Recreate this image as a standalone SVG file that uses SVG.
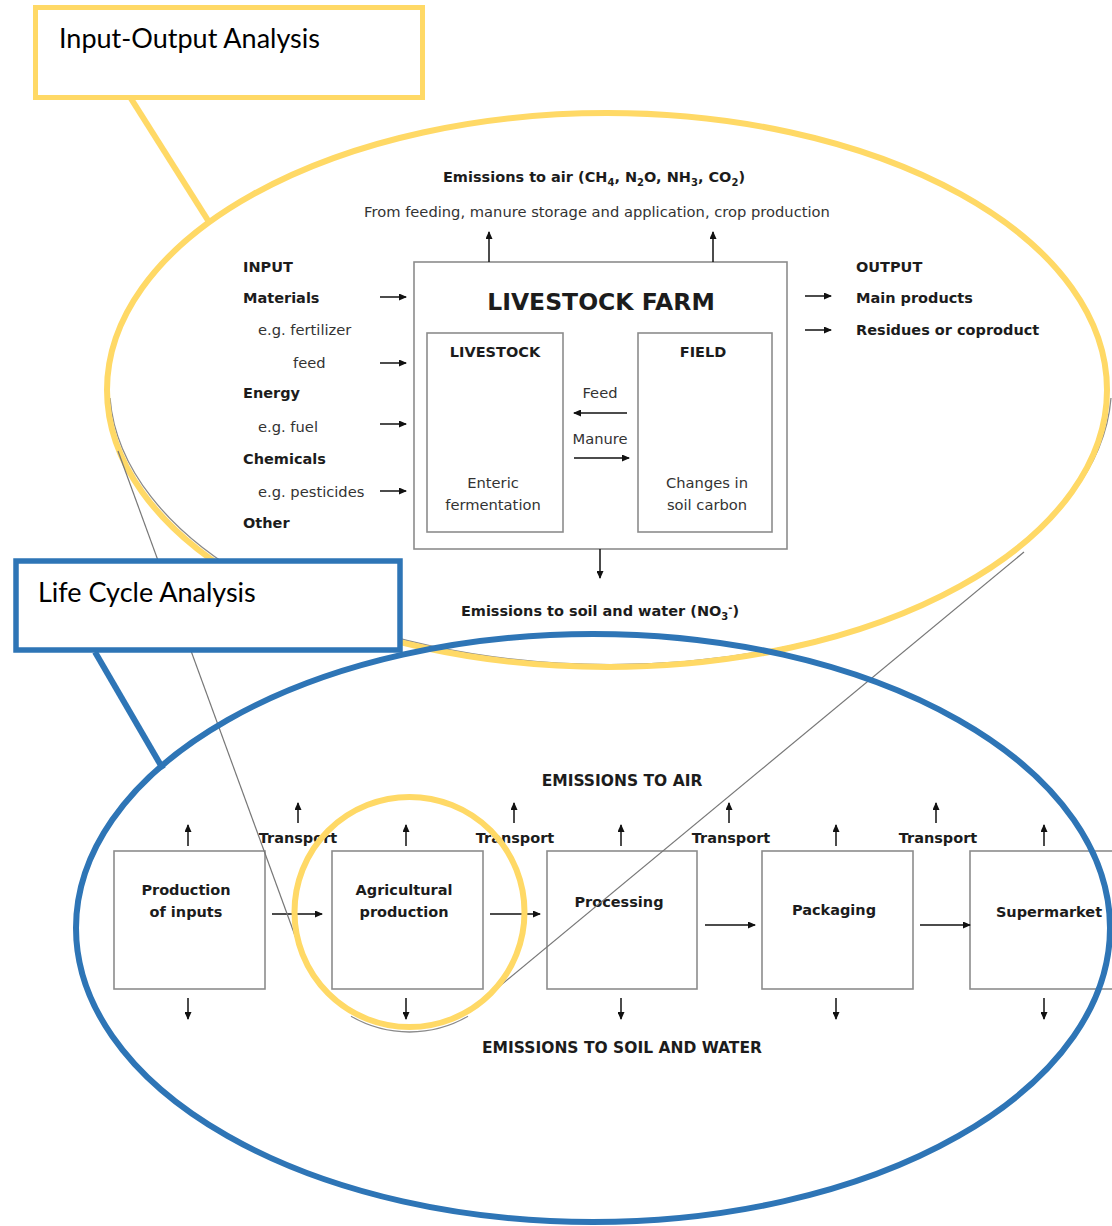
<svg xmlns="http://www.w3.org/2000/svg" width="1112" height="1226" viewBox="0 0 1112 1226">
<defs>
<style>
.b{font-family:"DejaVu Sans",Verdana,sans-serif;font-weight:bold;font-size:14.5px;fill:#1c1c1c}
.n{font-family:"DejaVu Sans",Verdana,sans-serif;font-size:14.7px;fill:#333}
.caps{font-size:15.5px}
.title{font-size:23.5px}
.c{font-family:Lato,"Open Sans",sans-serif;font-size:27px;fill:#000}
.box{fill:#fff;stroke:#8c8c8c;stroke-width:1.6}
.arr{stroke:#111;stroke-width:1.5;fill:none;marker-end:url(#ah)}
.yel{fill:none;stroke:#FFD966;stroke-width:6}
.blu{fill:none;stroke:#2E75B6;stroke-width:6}
.shadow{fill:none;stroke:#8a8a8a;stroke-width:1.3}
.mid{text-anchor:middle}
</style>
<marker id="ah" markerWidth="8" markerHeight="7" refX="7" refY="3.5" orient="auto" markerUnits="userSpaceOnUse">
<path d="M0,0 L8,3.5 L0,7 z" fill="#111"/>
</marker>
</defs>
<rect width="1112" height="1226" fill="#fff"/>

<g id="io-lens">
<path class="shadow" d="M110,398 A501,279 0 0 0 1111,398"/>
<ellipse class="yel" cx="607" cy="390" rx="500" ry="277"/>
</g>

<g id="io-callout">
<line x1="130" y1="97" x2="209" y2="222" stroke="#FFD966" stroke-width="6"/>
<rect x="35.5" y="7.5" width="387" height="90" fill="#fff" stroke="#FFD966" stroke-width="5"/>
<text class="c" x="59" y="48">Input-Output Analysis</text>
</g>

<g id="io-top-labels">
<text class="b mid" x="594" y="182">Emissions to air (CH<tspan font-size="10" dy="4">4</tspan><tspan dy="-4">, N</tspan><tspan font-size="10" dy="4">2</tspan><tspan dy="-4">O, NH</tspan><tspan font-size="10" dy="4">3</tspan><tspan dy="-4">, CO</tspan><tspan font-size="10" dy="4">2</tspan><tspan dy="-4">)</tspan></text>
<text class="n mid" x="597" y="217">From feeding, manure storage and application, crop production</text>
</g>

<g id="inputs">
<text class="b" x="243" y="272">INPUT</text>
<text class="b" x="243" y="303">Materials</text>
<text class="n" x="258" y="335">e.g. fertilizer</text>
<text class="n" x="293" y="368">feed</text>
<text class="b" x="243" y="398">Energy</text>
<text class="n" x="258" y="432">e.g. fuel</text>
<text class="b" x="243" y="464">Chemicals</text>
<text class="n" x="258" y="497">e.g. pesticides</text>
<text class="b" x="243" y="528">Other</text>
</g>

<g id="outputs">
<text class="b" x="856" y="272">OUTPUT</text>
<text class="b" x="856" y="303">Main products</text>
<text class="b" x="856" y="335">Residues or coproduct</text>
</g>

<g id="livestock-farm">
<rect class="box" x="414" y="262" width="373" height="287"/>
<text class="b title mid" x="601" y="310">LIVESTOCK FARM</text>
</g>
<g id="livestock">
<rect class="box" x="427" y="333" width="136" height="199"/>
<text class="b mid" x="495" y="357">LIVESTOCK</text>
<text class="n mid" x="493" y="488">Enteric</text>
<text class="n mid" x="493" y="510">fermentation</text>
</g>
<g id="field">
<rect class="box" x="638" y="333" width="134" height="199"/>
<text class="b mid" x="703" y="357">FIELD</text>
<text class="n mid" x="707" y="488">Changes in</text>
<text class="n mid" x="707" y="510">soil carbon</text>
</g>
<g id="io-flow-labels">
<text class="n mid" x="600" y="398">Feed</text>
<text class="n mid" x="600" y="444">Manure</text>
<text class="b mid" x="600" y="616">Emissions to soil and water (NO<tspan font-size="10" dy="4">3</tspan><tspan font-size="10" dy="-9">-</tspan><tspan dy="5">)</tspan></text>
</g>

<g id="lca-labels">
<text class="b caps mid" x="622" y="786">EMISSIONS TO AIR</text>
<text class="b caps mid" x="622" y="1053">EMISSIONS TO SOIL AND WATER</text>
<text class="b mid" x="298" y="843">Transport</text>
<text class="b mid" x="515" y="843">Transport</text>
<text class="b mid" x="731" y="843">Transport</text>
<text class="b mid" x="938" y="843">Transport</text>
</g>
<g id="production-of-inputs">
<rect class="box" x="114" y="851" width="151" height="138"/>
<text class="b mid" x="186" y="895">Production</text>
<text class="b mid" x="186" y="917">of inputs</text>
</g>
<g id="agricultural-production">
<rect class="box" x="332" y="851" width="151" height="138"/>
<text class="b mid" x="404" y="895">Agricultural</text>
<text class="b mid" x="404" y="917">production</text>
</g>
<g id="processing">
<rect class="box" x="547" y="851" width="150" height="138"/>
<text class="b mid" x="619" y="907">Processing</text>
</g>
<g id="packaging">
<rect class="box" x="762" y="851" width="151" height="138"/>
<text class="b mid" x="834" y="915">Packaging</text>
</g>
<g id="supermarket">
<rect class="box" x="970" y="851" width="160" height="138"/>
<text class="b mid" x="1049" y="917">Supermarket</text>
</g>

<g id="connectors">
<line class="arr" x1="489" y1="262" x2="489" y2="232"/>
<line class="arr" x1="713" y1="262" x2="713" y2="232"/>
<line class="arr" x1="380" y1="297" x2="406" y2="297"/>
<line class="arr" x1="380" y1="363" x2="406" y2="363"/>
<line class="arr" x1="380" y1="424" x2="406" y2="424"/>
<line class="arr" x1="380" y1="491" x2="406" y2="491"/>
<line class="arr" x1="805" y1="296" x2="831" y2="296"/>
<line class="arr" x1="805" y1="330" x2="831" y2="330"/>
<line class="arr" x1="627" y1="413" x2="574" y2="413"/>
<line class="arr" x1="574" y1="458" x2="629" y2="458"/>
<line class="arr" x1="600" y1="549" x2="600" y2="578"/>
<line class="arr" x1="188" y1="846" x2="188" y2="825"/>
<line class="arr" x1="406" y1="846" x2="406" y2="825"/>
<line class="arr" x1="621" y1="846" x2="621" y2="825"/>
<line class="arr" x1="836" y1="846" x2="836" y2="825"/>
<line class="arr" x1="1044" y1="846" x2="1044" y2="825"/>
<line class="arr" x1="298" y1="823" x2="298" y2="803"/>
<line class="arr" x1="514" y1="823" x2="514" y2="803"/>
<line class="arr" x1="729" y1="823" x2="729" y2="803"/>
<line class="arr" x1="936" y1="823" x2="936" y2="803"/>
<line class="arr" x1="272" y1="914" x2="322" y2="914"/>
<line class="arr" x1="490" y1="914" x2="540" y2="914"/>
<line class="arr" x1="705" y1="925" x2="755" y2="925"/>
<line class="arr" x1="920" y1="925" x2="970" y2="925"/>
<line class="arr" x1="188" y1="998" x2="188" y2="1019"/>
<line class="arr" x1="406" y1="998" x2="406" y2="1019"/>
<line class="arr" x1="621" y1="998" x2="621" y2="1019"/>
<line class="arr" x1="836" y1="998" x2="836" y2="1019"/>
<line class="arr" x1="1044" y1="998" x2="1044" y2="1019"/>
</g>

<g id="zoom-lines">
<line x1="118" y1="451" x2="301" y2="952" stroke="#777" stroke-width="1.2"/>
<line x1="1024" y1="552" x2="495" y2="990" stroke="#777" stroke-width="1.2"/>
</g>

<g id="lca-lens">
<ellipse class="blu" cx="593" cy="928" rx="517" ry="294"/>
</g>

<g id="lca-callout">
<line x1="95" y1="652" x2="163" y2="769" stroke="#2E75B6" stroke-width="6"/>
<rect x="16" y="561" width="384" height="89" fill="#fff" stroke="#2E75B6" stroke-width="5.5"/>
<text class="c" x="38" y="602">Life Cycle Analysis</text>
</g>

<g id="focus-circle">
<path class="shadow" d="M351,1016.3 A117,117 0 0 0 468,1016.3"/>
<circle class="yel" cx="409.5" cy="912" r="115"/>
</g>
</svg>
